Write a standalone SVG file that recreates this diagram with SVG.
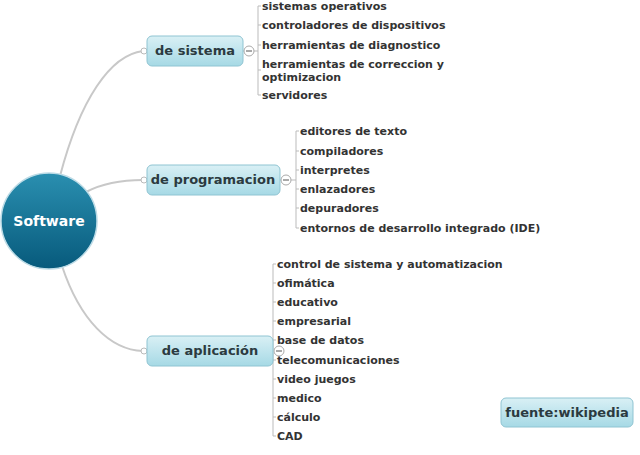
<svg xmlns="http://www.w3.org/2000/svg" width="640" height="455" viewBox="0 0 640 455">
<style>
.t{font-family:"DejaVu Sans",Verdana,sans-serif;font-weight:bold;font-size:11px;fill:#333}
.n{font-family:"DejaVu Sans",Verdana,sans-serif;font-weight:bold;font-size:13px;fill:#2b3a40}
.c{fill:none;stroke:#c8c8c8;stroke-width:2}
.b{fill:none;stroke:#bbb;stroke-width:1}
.box{fill:url(#g);stroke:#8fc4d2;stroke-width:1}
.dot{fill:#fff;stroke:#bbb}
</style>
<defs>
<linearGradient id="g" x1="0" y1="0" x2="0" y2="1"><stop offset="0" stop-color="#d9f0f5"/><stop offset="1" stop-color="#a6d9e5"/></linearGradient>
<linearGradient id="cg" x1="0" y1="0" x2="0" y2="1"><stop offset="0" stop-color="#2a8fb0"/><stop offset="1" stop-color="#075a7c"/></linearGradient>
</defs>
<rect width="640" height="455" fill="#fff"/>
<g id="connectors">
<path class="c" d="M60,176 C80,100 110,55 143,51"/>
<path class="c" d="M86,192 C105,182 125,180 143,180"/>
<path class="c" d="M62,266 C80,320 110,350 143,351"/>
<circle class="dot" cx="144" cy="51" r="3"/>
<circle class="dot" cx="144" cy="180" r="3"/>
<circle class="dot" cx="144" cy="351" r="3"/>
<line class="b" x1="243" y1="51" x2="258" y2="51"/>
<line class="b" x1="280" y1="180" x2="296" y2="180"/>
<line class="b" x1="273" y1="351" x2="273" y2="351"/>
<circle cx="249" cy="51" r="5" fill="#fff" stroke="#aaa"/><line x1="246" y1="51" x2="252" y2="51" stroke="#555"/>
<circle cx="286" cy="180" r="5" fill="#fff" stroke="#aaa"/><line x1="283" y1="180" x2="289" y2="180" stroke="#555"/>
<circle cx="279" cy="351" r="5" fill="#fff" stroke="#aaa"/><line x1="276" y1="351" x2="282" y2="351" stroke="#555"/>
<path class="b" d="M261,6 H258 V95 H261 M258,25 H261 M258,45 H261 M258,70 H261"/>
<path class="b" d="M299,131 H296 V228 H299 M296,151 H299 M296,170 H299 M296,189 H299 M296,208 H299"/>
<path class="b" d="M276,264 H273 V436 H276 M273,283 H276 M273,302 H276 M273,321 H276 M273,340 H276 M273,360 H276 M273,379 H276 M273,398 H276 M273,417 H276"/>
</g>
<g id="software"><circle cx="49" cy="221" r="48" fill="url(#cg)" stroke="#bcdbe6" stroke-width="1.5"/><text x="49" y="226" text-anchor="middle" font-family="DejaVu Sans,Verdana,sans-serif" font-weight="bold" font-size="14" fill="#fff">Software</text></g>
<g id="sistema"><rect class="box" x="147" y="36" width="96" height="30" rx="5"/><text class="n" x="195" y="55" text-anchor="middle">de sistema</text></g>
<g id="programacion"><rect class="box" x="147" y="165" width="133" height="30" rx="5"/><text class="n" x="213" y="184" text-anchor="middle">de programacion</text></g>
<g id="aplicacion"><rect class="box" x="147" y="336" width="126" height="30" rx="5"/><text class="n" x="210" y="355" text-anchor="middle">de aplicación</text></g>
<g id="fuente"><rect class="box" x="501" y="398" width="132" height="29" rx="5"/><text class="n" x="567" y="417" text-anchor="middle">fuente:wikipedia</text></g>
<g id="leaves-sistema" class="t">
<text class="t" x="262" y="10">sistemas operativos</text>
<text class="t" x="262" y="29">controladores de dispositivos</text>
<text class="t" x="262" y="49">herramientas de diagnostico</text>
<text class="t" x="262" y="68">herramientas de correccion y</text>
<text class="t" x="262" y="81">optimizacion</text>
<text class="t" x="262" y="99">servidores</text>
</g>
<g id="leaves-programacion">
<text class="t" x="300" y="135">editores de texto</text>
<text class="t" x="300" y="155">compiladores</text>
<text class="t" x="300" y="174">interpretes</text>
<text class="t" x="300" y="193">enlazadores</text>
<text class="t" x="300" y="212">depuradores</text>
<text class="t" x="300" y="232">entornos de desarrollo integrado (IDE)</text>
</g>
<g id="leaves-aplicacion">
<text class="t" x="277" y="268">control de sistema y automatizacion</text>
<text class="t" x="277" y="287">ofimática</text>
<text class="t" x="277" y="306">educativo</text>
<text class="t" x="277" y="325">empresarial</text>
<text class="t" x="277" y="344">base de datos</text>
<text class="t" x="277" y="364">telecomunicaciones</text>
<text class="t" x="277" y="383">video juegos</text>
<text class="t" x="277" y="402">medico</text>
<text class="t" x="277" y="421">cálculo</text>
<text class="t" x="277" y="440">CAD</text>
</g>
</svg>
